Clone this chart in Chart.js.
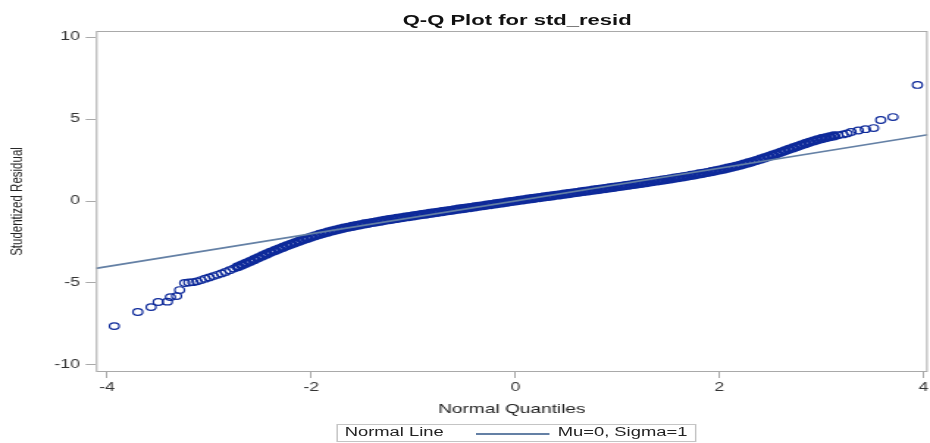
<!DOCTYPE html>
<html>
<head>
<meta charset="utf-8">
<script src="https://cdn.jsdelivr.net/npm/chart.js@4"></script>
<style>
  html, body { margin: 0; padding: 0; background: #fff; overflow: hidden; }
  /* the reference is stretched sideways, so draw narrow and stretch */
  #wrap { position: absolute; left: 0; top: 0; width: 638px; height: 443px;
          transform: scaleX(1.4692); transform-origin: 0 0;
          font-family: "Liberation Sans", Arial, sans-serif; color: #222; }
  #title { position: absolute; left: 102px; width: 500px; top: 12px;
           text-align: center; font-weight: bold; font-size: 15px; line-height: 15px; color: #111; }
  #legend { position: absolute; left: 228.6px; top: 424px; width: 245.5px; height: 18px;
            border: 1px solid #c4c4c4; box-sizing: border-box; font-size: 12.5px; line-height: 15px; }
  #legend span { position: absolute; top: 0; white-space: nowrap; }
  #legend .swatch { position: absolute; top: 8px; height: 1.6px; width: 49.6px; left: 94.9px;
                    background: rgb(100,128,165); }
</style>
</head>
<body>
<div id="wrap">
  <canvas id="chart" width="638" height="443"></canvas>
  <div id="title">Q-Q Plot for std_resid</div>
  <div id="legend">
    <span style="left:5px">Normal Line</span>
    <div class="swatch"></div>
    <span style="left:150px">Mu=0, Sigma=1</span>
  </div>
</div>
<script>
// lower tail, read one by one
const lowTailX = [-3.93, -3.70, -3.57, -3.50, -3.41, -3.38, -3.32, -3.29, -3.24];
const lowTailY = [-7.63, -6.77, -6.47, -6.16, -6.14, -5.86, -5.80, -5.43, -5.00];

// main body of the plot
const bandX = [
  -3.20, -3.16, -3.12, -3.08, -3.04, -3.00, -2.96, -2.92, -2.88, -2.84,
  -2.80, -2.76, -2.72, -2.68, -2.64, -2.60, -2.56, -2.52, -2.48, -2.44,
  -2.40, -2.36, -2.32, -2.28, -2.24, -2.20, -2.16, -2.12, -2.08, -2.04,
  -2.00, -1.96, -1.92, -1.88, -1.84, -1.80, -1.76, -1.72, -1.68, -1.64,
  -1.60, -1.56, -1.52, -1.48, -1.44, -1.40, -1.36, -1.32, -1.28, -1.24,
  -1.20, -1.16, -1.12, -1.08, -1.04, -1.00, -0.96, -0.92, -0.88, -0.84,
  -0.80, -0.76, -0.72, -0.68, -0.64, -0.60, -0.56, -0.52, -0.48, -0.44,
  -0.40, -0.36, -0.32, -0.28, -0.24, -0.20, -0.16, -0.12, -0.08, -0.04,
  0.00, 0.04, 0.08, 0.12, 0.16, 0.20, 0.24, 0.28, 0.32, 0.36,
  0.40, 0.44, 0.48, 0.52, 0.56, 0.60, 0.64, 0.68, 0.72, 0.76,
  0.80, 0.84, 0.88, 0.92, 0.96, 1.00, 1.04, 1.08, 1.12, 1.16,
  1.20, 1.24, 1.28, 1.32, 1.36, 1.40, 1.44, 1.48, 1.52, 1.56,
  1.60, 1.64, 1.68, 1.72, 1.76, 1.80, 1.84, 1.88, 1.92, 1.96,
  2.00, 2.04, 2.08, 2.12, 2.16, 2.20, 2.24, 2.28, 2.32, 2.36,
  2.40, 2.44, 2.48, 2.52, 2.56, 2.60, 2.64, 2.68, 2.72, 2.76,
  2.80, 2.84, 2.88, 2.92, 2.96, 3.00, 3.04, 3.08, 3.12, 3.16
];
const bandY = [
  -4.97, -4.95, -4.90, -4.82, -4.74, -4.66, -4.58, -4.50, -4.42, -4.33,
  -4.22, -4.12, -4.01, -3.91, -3.80, -3.69, -3.58, -3.46, -3.35, -3.24,
  -3.13, -3.03, -2.93, -2.83, -2.73, -2.64, -2.55, -2.46, -2.37, -2.28,
  -2.20, -2.12, -2.04, -1.97, -1.90, -1.83, -1.77, -1.71, -1.65, -1.60,
  -1.55, -1.50, -1.45, -1.40, -1.36, -1.31, -1.27, -1.23, -1.18, -1.14,
  -1.10, -1.06, -1.02, -0.98, -0.95, -0.91, -0.87, -0.83, -0.80, -0.76,
  -0.72, -0.69, -0.65, -0.61, -0.58, -0.54, -0.50, -0.47, -0.43, -0.40,
  -0.36, -0.32, -0.29, -0.25, -0.22, -0.18, -0.14, -0.11, -0.07, -0.03,
  0.00, 0.04, 0.07, 0.11, 0.14, 0.18, 0.21, 0.25, 0.28, 0.31,
  0.35, 0.38, 0.42, 0.45, 0.49, 0.52, 0.56, 0.59, 0.62, 0.66,
  0.69, 0.73, 0.76, 0.80, 0.83, 0.87, 0.90, 0.94, 0.97, 1.01,
  1.05, 1.08, 1.12, 1.16, 1.20, 1.23, 1.27, 1.31, 1.35, 1.39,
  1.43, 1.47, 1.51, 1.56, 1.60, 1.65, 1.69, 1.74, 1.79, 1.84,
  1.89, 1.94, 2.00, 2.06, 2.12, 2.18, 2.25, 2.32, 2.39, 2.47,
  2.55, 2.63, 2.71, 2.80, 2.88, 2.97, 3.06, 3.15, 3.24, 3.32,
  3.41, 3.50, 3.58, 3.66, 3.73, 3.80, 3.86, 3.92, 3.97, 4.01
];

// upper tail
const highTailX = [3.21, 3.25, 3.29, 3.36, 3.43, 3.51, 3.58, 3.70, 3.94];
const highTailY = [4.06, 4.12, 4.21, 4.30, 4.38, 4.45, 4.94, 5.12, 7.08];

// normal reference line
const mu = 0, sigma = 1;
const lineX = [-4.11, 4.04];

const xTicks = [-4, -2, 0, 2, 4];
const yTicks = [-10, -5, 0, 5, 10];

const fontFamily = '"Liberation Sans", Arial, sans-serif';
const markColor = 'rgb(14,42,154)';
const lineColor = 'rgb(100,128,165)';
const frameColor = '#a9a9a9';

const toPoints = (xs, ys) => xs.map((x, i) => ({ x: x, y: ys[i] }));
const points = [].concat(
  toPoints(lowTailX, lowTailY),
  toPoints(bandX, bandY),
  toPoints(highTailX, highTailY)
);

const framePlugin = {
  id: 'frame',
  afterDraw(chart) {
    const { ctx, chartArea: a } = chart;
    ctx.save();
    ctx.strokeStyle = frameColor;
    ctx.lineWidth = 1;
    ctx.strokeRect(a.left + 0.5, a.top + 0.5, a.right - a.left - 1, a.bottom - a.top - 1);
    ctx.restore();
  }
};

new Chart(document.getElementById('chart'), {
  type: 'scatter',
  data: {
    datasets: [
      {
        label: 'Normal Line',
        data: lineX.map(x => ({ x: x, y: mu + sigma * x })),
        showLine: true,
        borderColor: lineColor,
        borderWidth: 1.6,
        pointRadius: 0,
      },
      {
        label: 'std_resid',
        data: points,
        pointStyle: 'circle',
        backgroundColor: 'rgba(0,0,0,0)',
        borderColor: markColor,
        pointRadius: 3.3,
        pointBorderWidth: (c) => (c.raw && c.raw.x > -2.74 && c.raw.x < 3.14) ? 2.6 : 1.2,
      },
    ],
  },
  options: {
    responsive: false,
    animation: false,
    layout: { padding: { top: 31, right: 1, left: 0, bottom: 0 } },
    plugins: {
      legend: { display: false },
      title: { display: false },
      tooltip: { enabled: false },
    },
    scales: {
      x: {
        type: 'linear',
        min: -4.11,
        max: 4.04,
        afterBuildTicks: (s) => { s.ticks = xTicks.map(v => ({ value: v })); },
        afterFit: (s) => { s.height = 71; },
        grid: { drawOnChartArea: false, drawTicks: true, tickLength: 6, color: frameColor },
        border: { display: false },
        ticks: { color: '#333', padding: 2, font: { family: fontFamily, size: 12 } },
        title: {
          display: true,
          text: 'Normal Quantiles',
          color: '#222',
          padding: { top: 0, bottom: 25.5 },
          font: { family: fontFamily, size: 13 },
        },
      },
      y: {
        type: 'linear',
        min: -10.43,
        max: 10.37,
        afterBuildTicks: (s) => { s.ticks = yTicks.map(v => ({ value: v })); },
        afterFit: (s) => { s.width = 65.3; },
        grid: { drawOnChartArea: false, drawTicks: true, tickLength: 7, color: frameColor },
        border: { display: false },
        ticks: { color: '#333', padding: 4, font: { family: fontFamily, size: 12 } },
        title: {
          display: true,
          text: 'Studentized Residual',
          color: '#222',
          padding: { top: 4.7, bottom: 0 },
          font: { family: fontFamily, size: 11.5 },
        },
      },
    },
  },
  plugins: [framePlugin],
});
</script>
</body>
</html>
